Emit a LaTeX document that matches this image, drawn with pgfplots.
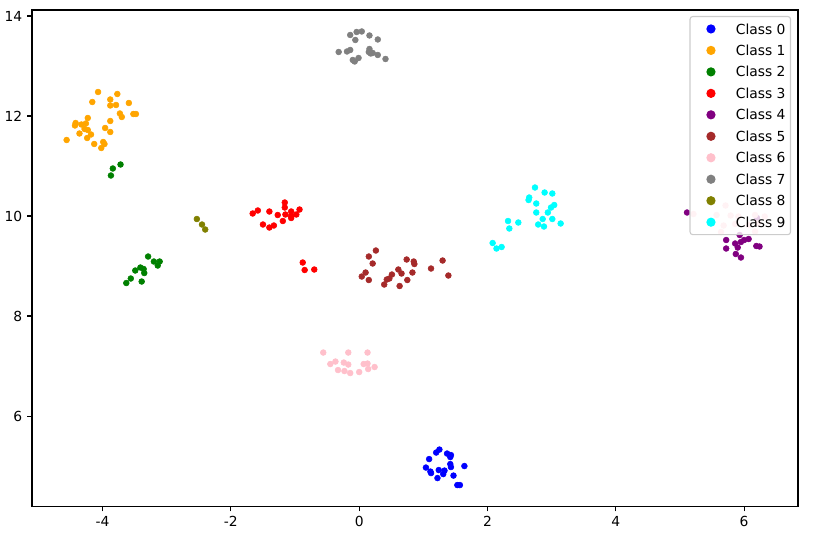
\documentclass[border=0pt]{standalone}
\usepackage{pgfplots}
\pgfplotsset{compat=1.18}
\usepackage{fontspec}
\setmainfont{DejaVu Sans}
\definecolor{c0}{RGB}{0,0,255}
\definecolor{c1}{RGB}{255,165,0}
\definecolor{c2}{RGB}{0,128,0}
\definecolor{c3}{RGB}{255,0,0}
\definecolor{c4}{RGB}{128,0,128}
\definecolor{c5}{RGB}{165,42,42}
\definecolor{c6}{RGB}{255,192,203}
\definecolor{c7}{RGB}{128,128,128}
\definecolor{c8}{RGB}{128,128,0}
\definecolor{c9}{RGB}{0,255,255}
\definecolor{legframe}{RGB}{204,204,204}
\begin{document}
\begin{tikzpicture}
\begin{axis}[
  name=ax,
  scale only axis,
  width=553pt, height=358.5pt,
  xmin=-5.10, xmax=6.84, ymin=4.19, ymax=14.12,
  xtick={-4,-2,0,2,4,6},
  ytick={6,8,10,12,14},
  tick align=outside,
  major tick length=3.5pt,
  tick style={black, line width=0.8pt},
  axis line style={line width=0.8pt},
  tick pos=left,
  /pgf/number format/assume math mode=true,
  ticklabel style={font=\fontsize{10}{12}\selectfont},
  legend style={at={(1,1)}, anchor=north east, xshift=-5pt, yshift=-4.3pt,
    fill=white, fill opacity=0.8, text opacity=1, draw=legframe, line width=0.8pt,
    rounded corners=2pt, font=\fontsize{10}{12}\selectfont,
    cells={anchor=west}, row sep=5.5pt, inner xsep=3.6pt, inner ysep=4pt,
    nodes={inner sep=0pt, text height=7.3pt, text depth=0pt}},
  legend image code/.code={%
    \path[draw=none, fill=none] (0pt,-5pt) rectangle (29.5pt,5pt);
    \draw[mark size=2.9pt, fill opacity=1, draw opacity=1] plot coordinates {(11.5pt,0pt)};},
  every axis plot/.append style={only marks, mark=*, mark size=2.1pt},
]
\addplot[c0, mark options={draw=c0, fill=c0}] coordinates {
(1.25,5.33)(1.20,5.27)(1.37,5.25)(1.43,5.22)(1.42,5.18)(1.09,5.14)(1.42,5.04)(1.43,4.98)(1.64,5.00)(1.04,4.97)
(1.11,4.89)(1.12,4.86)(1.24,4.92)(1.33,4.91)(1.31,4.84)(1.22,4.76)(1.47,4.81)(1.53,4.62)(1.57,4.62)};
\addlegendentry{Class 0}
\addplot[c1, mark options={draw=c1, fill=c1}] coordinates {
(-4.07,12.48)(-3.77,12.44)(-4.16,12.28)(-3.88,12.33)(-3.88,12.21)(-3.79,12.22)(-3.59,12.26)(-3.73,12.05)(-3.70,11.98)(-3.52,12.04)
(-3.48,12.04)(-4.23,11.96)(-3.88,11.90)(-4.42,11.86)(-4.43,11.81)(-4.33,11.83)(-4.26,11.85)(-4.28,11.74)(-4.23,11.72)(-3.96,11.76)
(-3.88,11.68)(-4.36,11.65)(-4.18,11.63)(-4.24,11.56)(-4.56,11.52)(-4.13,11.44)(-3.99,11.48)(-3.97,11.44)(-4.02,11.36)};
\addlegendentry{Class 1}
\addplot[c2, mark options={draw=c2, fill=c2}] coordinates {
(-3.72,11.03)(-3.84,10.95)(-3.87,10.81)
(-3.29,9.19)(-3.20,9.09)(-3.11,9.09)(-3.14,9.01)(-3.41,8.97)(-3.36,8.94)(-3.35,8.86)(-3.49,8.91)(-3.56,8.75)(-3.39,8.69)(-3.63,8.66)};
\addlegendentry{Class 2}
\addplot[c3, mark options={draw=c3, fill=c3}] coordinates {
(-1.16,10.27)(-1.16,10.17)(-1.66,10.05)(-1.58,10.11)(-1.40,10.09)(-1.27,10.02)(-1.15,10.03)(-1.06,10.09)(-1.06,10.00)(-1.06,9.96)
(-0.98,10.03)(-0.93,10.13)(-1.19,9.90)(-1.50,9.83)(-1.33,9.81)(-1.40,9.77)(-0.88,9.07)(-0.85,8.92)(-0.70,8.93)};
\addlegendentry{Class 3}
\addplot[c4, mark options={draw=c4, fill=c4}] coordinates {
(5.11,10.07)(5.72,9.52)(5.72,9.35)(5.86,9.45)(5.90,9.37)(5.95,9.48)(6.00,9.52)(6.07,9.54)(5.87,9.24)(5.95,9.17)
(6.19,9.40)(6.24,9.39)(6.20,9.96)(5.93,9.62)};
\addlegendentry{Class 4}
\addplot[c5, mark options={draw=c5, fill=c5}] coordinates {
(0.26,9.31)(0.15,9.19)(0.21,9.05)(0.10,8.87)(0.04,8.79)(0.15,8.72)(0.74,9.13)(0.85,9.09)(0.86,9.04)(0.61,8.93)
(0.66,8.85)(0.83,8.87)(0.51,8.83)(0.47,8.75)(0.43,8.73)(0.39,8.63)(0.63,8.60)(0.75,8.72)(1.12,8.95)(1.30,9.11)(1.39,8.81)};
\addlegendentry{Class 5}
\addplot[c6, mark options={draw=c6, fill=c6}] coordinates {
(-0.56,7.27)(-0.17,7.27)(0.13,7.27)(-0.45,7.04)(-0.37,7.09)(-0.24,7.07)(-0.17,7.03)(-0.33,6.92)(-0.23,6.90)(-0.14,6.86)
(0.00,6.88)(0.07,7.04)(0.13,7.05)(0.14,6.94)(0.24,6.98)
(5.21,10.04)(5.71,10.21)(5.57,10.02)(5.79,10.01)(5.91,9.99)(6.17,10.02)(6.32,9.99)(5.68,9.81)(5.86,9.84)(6.07,9.82)
(6.22,9.86)(5.64,9.68)(6.17,9.69)};
\addlegendentry{Class 6}
\addplot[c7, mark options={draw=c7, fill=c7}] coordinates {
(-0.14,13.62)(-0.04,13.68)(0.04,13.69)(0.16,13.61)(0.29,13.53)(-0.06,13.52)(-0.32,13.28)(-0.19,13.29)(-0.14,13.32)(-0.10,13.12)
(-0.07,13.09)(-0.01,13.16)(0.16,13.34)(0.15,13.28)(0.21,13.26)(0.29,13.22)(0.41,13.14)(0.18,13.25)};
\addlegendentry{Class 7}
\addplot[c8, mark options={draw=c8, fill=c8}] coordinates {
(-2.53,9.94)(-2.45,9.83)(-2.40,9.73)};
\addlegendentry{Class 8}
\addplot[c9, mark options={draw=c9, fill=c9}] coordinates {
(2.74,10.57)(2.89,10.47)(3.01,10.45)(2.65,10.37)(2.64,10.32)(2.76,10.25)(3.04,10.22)(2.99,10.17)(2.76,10.07)(2.94,10.07)
(2.86,9.94)(3.01,9.94)(3.14,9.85)(2.79,9.83)(2.88,9.79)(2.32,9.90)(2.48,9.87)(2.34,9.75)(2.08,9.46)(2.14,9.35)(2.22,9.38)};
\addlegendentry{Class 9}
\end{axis}
\path ([xshift=-21.6pt,yshift=-23.8pt]ax.south west) rectangle ([xshift=20.2pt,yshift=7.2pt]ax.north east);
\end{tikzpicture}
\end{document}
